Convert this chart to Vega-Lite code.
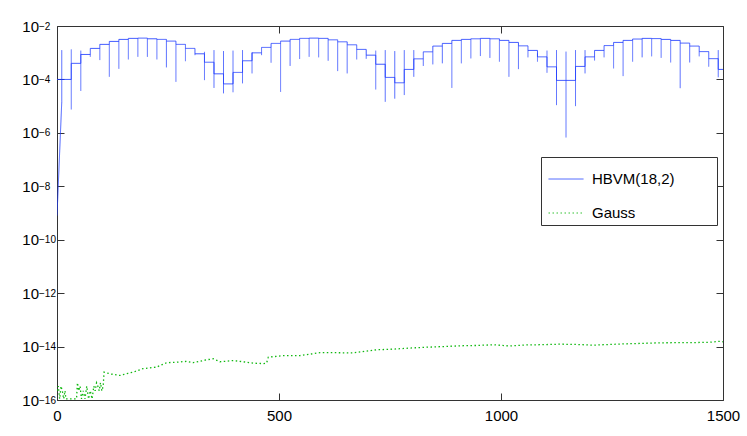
{
  "$schema": "https://vega.github.io/schema/vega-lite/v6.json",
  "width": 666,
  "height": 374,
  "autosize": {"type": "none"},
  "padding": {"left": 57, "top": 26, "right": 24, "bottom": 36},
  "background": "white",
  "config": {
    "view": {"stroke": "#333333", "strokeWidth": 1},
    "font": "Liberation Sans",
    "axis": {
      "domainColor": "#333333",
      "tickColor": "#333333",
      "tickWidth": 1,
      "labelFont": "Liberation Sans",
      "labelFontSize": 15,
      "labelColor": "#000000",
      "grid": false,
      "title": null,
      "labelFlush": false,
      "labelOverlap": false
    },
    "legend": {
      "labelFont": "Liberation Sans",
      "labelFontSize": 15,
      "labelColor": "#000000"
    }
  },
  "datasets": {
    "gauss": [
      {"x": 0, "y": 2.2e-16, "series": "Gauss"},
      {"x": 3, "y": 3.3e-16, "series": "Gauss"},
      {"x": 6, "y": 1.1e-16, "series": "Gauss"},
      {"x": 9, "y": 3.3e-16, "series": "Gauss"},
      {"x": 12, "y": 2.2e-16, "series": "Gauss"},
      {"x": 15, "y": 1.1e-16, "series": "Gauss"},
      {"x": 18, "y": 2.2e-16, "series": "Gauss"},
      {"x": 20, "y": 1.1e-16, "series": "Gauss"},
      {"x": 44, "y": 1.1e-16, "series": "Gauss"},
      {"x": 46, "y": 4.4e-16, "series": "Gauss"},
      {"x": 49, "y": 2.2e-16, "series": "Gauss"},
      {"x": 52, "y": 3.3e-16, "series": "Gauss"},
      {"x": 55, "y": 1.1e-16, "series": "Gauss"},
      {"x": 59, "y": 2.2e-16, "series": "Gauss"},
      {"x": 63, "y": 1.1e-16, "series": "Gauss"},
      {"x": 67, "y": 3.3e-16, "series": "Gauss"},
      {"x": 71, "y": 1.1e-16, "series": "Gauss"},
      {"x": 75, "y": 2.2e-16, "series": "Gauss"},
      {"x": 79, "y": 1.1e-16, "series": "Gauss"},
      {"x": 83, "y": 3.3e-16, "series": "Gauss"},
      {"x": 86, "y": 2.2e-16, "series": "Gauss"},
      {"x": 89, "y": 4.4e-16, "series": "Gauss"},
      {"x": 92, "y": 3.3e-16, "series": "Gauss"},
      {"x": 95, "y": 2.2e-16, "series": "Gauss"},
      {"x": 98, "y": 4.4e-16, "series": "Gauss"},
      {"x": 101, "y": 2.2e-16, "series": "Gauss"},
      {"x": 104, "y": 3.3e-16, "series": "Gauss"},
      {"x": 106, "y": 1.1e-15, "series": "Gauss"},
      {"x": 120, "y": 9.5e-16, "series": "Gauss"},
      {"x": 142, "y": 8.3e-16, "series": "Gauss"},
      {"x": 160, "y": 1.0e-15, "series": "Gauss"},
      {"x": 172, "y": 1.1e-15, "series": "Gauss"},
      {"x": 194, "y": 1.5e-15, "series": "Gauss"},
      {"x": 224, "y": 1.7e-15, "series": "Gauss"},
      {"x": 247, "y": 2.5e-15, "series": "Gauss"},
      {"x": 270, "y": 2.6e-15, "series": "Gauss"},
      {"x": 292, "y": 2.8e-15, "series": "Gauss"},
      {"x": 307, "y": 2.5e-15, "series": "Gauss"},
      {"x": 337, "y": 3.2e-15, "series": "Gauss"},
      {"x": 352, "y": 3.5e-15, "series": "Gauss"},
      {"x": 367, "y": 2.7e-15, "series": "Gauss"},
      {"x": 397, "y": 3.0e-15, "series": "Gauss"},
      {"x": 420, "y": 2.7e-15, "series": "Gauss"},
      {"x": 442, "y": 2.4e-15, "series": "Gauss"},
      {"x": 465, "y": 2.3e-15, "series": "Gauss"},
      {"x": 472, "y": 2.4e-15, "series": "Gauss"},
      {"x": 476, "y": 4.0e-15, "series": "Gauss"},
      {"x": 510, "y": 4.6e-15, "series": "Gauss"},
      {"x": 547, "y": 4.6e-15, "series": "Gauss"},
      {"x": 592, "y": 5.9e-15, "series": "Gauss"},
      {"x": 622, "y": 5.9e-15, "series": "Gauss"},
      {"x": 667, "y": 5.8e-15, "series": "Gauss"},
      {"x": 697, "y": 6.8e-15, "series": "Gauss"},
      {"x": 720, "y": 7.6e-15, "series": "Gauss"},
      {"x": 757, "y": 8.0e-15, "series": "Gauss"},
      {"x": 795, "y": 8.8e-15, "series": "Gauss"},
      {"x": 833, "y": 9.5e-15, "series": "Gauss"},
      {"x": 870, "y": 1.0e-14, "series": "Gauss"},
      {"x": 908, "y": 1.07e-14, "series": "Gauss"},
      {"x": 945, "y": 1.1e-14, "series": "Gauss"},
      {"x": 983, "y": 1.17e-14, "series": "Gauss"},
      {"x": 1020, "y": 1.05e-14, "series": "Gauss"},
      {"x": 1058, "y": 1.15e-14, "series": "Gauss"},
      {"x": 1095, "y": 1.18e-14, "series": "Gauss"},
      {"x": 1133, "y": 1.23e-14, "series": "Gauss"},
      {"x": 1170, "y": 1.2e-14, "series": "Gauss"},
      {"x": 1208, "y": 1.13e-14, "series": "Gauss"},
      {"x": 1245, "y": 1.2e-14, "series": "Gauss"},
      {"x": 1283, "y": 1.27e-14, "series": "Gauss"},
      {"x": 1320, "y": 1.32e-14, "series": "Gauss"},
      {"x": 1358, "y": 1.38e-14, "series": "Gauss"},
      {"x": 1395, "y": 1.4e-14, "series": "Gauss"},
      {"x": 1433, "y": 1.41e-14, "series": "Gauss"},
      {"x": 1470, "y": 1.45e-14, "series": "Gauss"},
      {"x": 1493, "y": 1.58e-14, "series": "Gauss"},
      {"x": 1500, "y": 1.5e-14, "series": "Gauss"}
    ],
    "levels": [
      {"x": 0, "y": 1.0e-4, "series": "HBVM(18,2)"},
      {"x": 10.71, "y": 1.0e-4, "series": "HBVM(18,2)"},
      {"x": 32.14, "y": 4.0e-4, "series": "HBVM(18,2)"},
      {"x": 53.57, "y": 8.6e-4, "series": "HBVM(18,2)"},
      {"x": 75.0, "y": 1.45e-3, "series": "HBVM(18,2)"},
      {"x": 96.43, "y": 2.05e-3, "series": "HBVM(18,2)"},
      {"x": 117.86, "y": 2.65e-3, "series": "HBVM(18,2)"},
      {"x": 139.29, "y": 3.15e-3, "series": "HBVM(18,2)"},
      {"x": 160.71, "y": 3.44e-3, "series": "HBVM(18,2)"},
      {"x": 182.14, "y": 3.52e-3, "series": "HBVM(18,2)"},
      {"x": 203.57, "y": 3.32e-3, "series": "HBVM(18,2)"},
      {"x": 225.0, "y": 3.15e-3, "series": "HBVM(18,2)"},
      {"x": 246.43, "y": 2.72e-3, "series": "HBVM(18,2)"},
      {"x": 267.86, "y": 2.05e-3, "series": "HBVM(18,2)"},
      {"x": 289.29, "y": 1.45e-3, "series": "HBVM(18,2)"},
      {"x": 310.71, "y": 9.1e-4, "series": "HBVM(18,2)"},
      {"x": 332.14, "y": 4.4e-4, "series": "HBVM(18,2)"},
      {"x": 353.57, "y": 1.62e-4, "series": "HBVM(18,2)"},
      {"x": 375.0, "y": 6.8e-5, "series": "HBVM(18,2)"},
      {"x": 396.43, "y": 1.83e-4, "series": "HBVM(18,2)"},
      {"x": 417.86, "y": 5.0e-4, "series": "HBVM(18,2)"},
      {"x": 439.29, "y": 9.9e-4, "series": "HBVM(18,2)"},
      {"x": 460.71, "y": 1.58e-3, "series": "HBVM(18,2)"},
      {"x": 482.14, "y": 2.23e-3, "series": "HBVM(18,2)"},
      {"x": 503.57, "y": 2.72e-3, "series": "HBVM(18,2)"},
      {"x": 525.0, "y": 3.15e-3, "series": "HBVM(18,2)"},
      {"x": 546.43, "y": 3.44e-3, "series": "HBVM(18,2)"},
      {"x": 567.86, "y": 3.52e-3, "series": "HBVM(18,2)"},
      {"x": 589.29, "y": 3.44e-3, "series": "HBVM(18,2)"},
      {"x": 610.71, "y": 3.04e-3, "series": "HBVM(18,2)"},
      {"x": 632.14, "y": 2.56e-3, "series": "HBVM(18,2)"},
      {"x": 653.57, "y": 1.98e-3, "series": "HBVM(18,2)"},
      {"x": 675.0, "y": 1.33e-3, "series": "HBVM(18,2)"},
      {"x": 696.43, "y": 8.1e-4, "series": "HBVM(18,2)"},
      {"x": 717.86, "y": 3.7e-4, "series": "HBVM(18,2)"},
      {"x": 739.29, "y": 1.19e-4, "series": "HBVM(18,2)"},
      {"x": 760.71, "y": 7.5e-5, "series": "HBVM(18,2)"},
      {"x": 782.14, "y": 2.37e-4, "series": "HBVM(18,2)"},
      {"x": 803.57, "y": 5.9e-4, "series": "HBVM(18,2)"},
      {"x": 825.0, "y": 1.08e-3, "series": "HBVM(18,2)"},
      {"x": 846.43, "y": 1.77e-3, "series": "HBVM(18,2)"},
      {"x": 867.86, "y": 2.23e-3, "series": "HBVM(18,2)"},
      {"x": 889.29, "y": 2.89e-3, "series": "HBVM(18,2)"},
      {"x": 910.71, "y": 3.15e-3, "series": "HBVM(18,2)"},
      {"x": 932.14, "y": 3.32e-3, "series": "HBVM(18,2)"},
      {"x": 953.57, "y": 3.44e-3, "series": "HBVM(18,2)"},
      {"x": 975.0, "y": 3.32e-3, "series": "HBVM(18,2)"},
      {"x": 996.43, "y": 2.89e-3, "series": "HBVM(18,2)"},
      {"x": 1017.86, "y": 2.43e-3, "series": "HBVM(18,2)"},
      {"x": 1039.29, "y": 1.81e-3, "series": "HBVM(18,2)"},
      {"x": 1060.71, "y": 1.22e-3, "series": "HBVM(18,2)"},
      {"x": 1082.14, "y": 7.0e-4, "series": "HBVM(18,2)"},
      {"x": 1103.57, "y": 2.96e-4, "series": "HBVM(18,2)"},
      {"x": 1125.0, "y": 9.2e-5, "series": "HBVM(18,2)"},
      {"x": 1146.43, "y": 9.2e-5, "series": "HBVM(18,2)"},
      {"x": 1167.86, "y": 3.07e-4, "series": "HBVM(18,2)"},
      {"x": 1189.29, "y": 7.0e-4, "series": "HBVM(18,2)"},
      {"x": 1210.71, "y": 1.22e-3, "series": "HBVM(18,2)"},
      {"x": 1232.14, "y": 1.85e-3, "series": "HBVM(18,2)"},
      {"x": 1253.57, "y": 2.43e-3, "series": "HBVM(18,2)"},
      {"x": 1275.0, "y": 2.89e-3, "series": "HBVM(18,2)"},
      {"x": 1296.43, "y": 3.25e-3, "series": "HBVM(18,2)"},
      {"x": 1317.86, "y": 3.44e-3, "series": "HBVM(18,2)"},
      {"x": 1339.29, "y": 3.38e-3, "series": "HBVM(18,2)"},
      {"x": 1360.71, "y": 3.15e-3, "series": "HBVM(18,2)"},
      {"x": 1382.14, "y": 2.89e-3, "series": "HBVM(18,2)"},
      {"x": 1403.57, "y": 2.29e-3, "series": "HBVM(18,2)"},
      {"x": 1425.0, "y": 1.77e-3, "series": "HBVM(18,2)"},
      {"x": 1446.43, "y": 1.1e-3, "series": "HBVM(18,2)"},
      {"x": 1467.86, "y": 6.0e-4, "series": "HBVM(18,2)"},
      {"x": 1489.29, "y": 2.37e-4, "series": "HBVM(18,2)"},
      {"x": 1500, "y": 2.37e-4, "series": "HBVM(18,2)"}
    ],
    "ramp": [
      {"x": 0, "y": 8e-10, "series": "HBVM(18,2)"},
      {"x": 10.71, "y": 1.45e-5, "series": "HBVM(18,2)"}
    ],
    "spikes": [
      {"x": 10.71, "lo": 1.45e-5, "hi": 1.25e-3, "series": "HBVM(18,2)"},
      {"x": 32.14, "lo": 7.5e-6, "hi": 1.33e-3, "series": "HBVM(18,2)"},
      {"x": 53.57, "lo": 3.7e-5, "hi": 1.2e-3, "series": "HBVM(18,2)"},
      {"x": 75.0, "lo": 7.0e-4, "hi": 8.6e-4, "series": "HBVM(18,2)"},
      {"x": 96.43, "lo": 5.3e-4, "hi": 1.45e-3, "series": "HBVM(18,2)"},
      {"x": 117.86, "lo": 1.25e-4, "hi": 2.05e-3, "series": "HBVM(18,2)"},
      {"x": 139.29, "lo": 2.49e-4, "hi": 2.65e-3, "series": "HBVM(18,2)"},
      {"x": 160.71, "lo": 5.6e-4, "hi": 3.15e-3, "series": "HBVM(18,2)"},
      {"x": 182.14, "lo": 7.0e-4, "hi": 3.44e-3, "series": "HBVM(18,2)"},
      {"x": 203.57, "lo": 7.0e-4, "hi": 3.32e-3, "series": "HBVM(18,2)"},
      {"x": 225.0, "lo": 5.6e-4, "hi": 3.15e-3, "series": "HBVM(18,2)"},
      {"x": 246.43, "lo": 2.81e-4, "hi": 2.72e-3, "series": "HBVM(18,2)"},
      {"x": 267.86, "lo": 8.1e-5, "hi": 2.05e-3, "series": "HBVM(18,2)"},
      {"x": 289.29, "lo": 4.8e-4, "hi": 1.45e-3, "series": "HBVM(18,2)"},
      {"x": 310.71, "lo": 8.1e-4, "hi": 9.1e-4, "series": "HBVM(18,2)"},
      {"x": 332.14, "lo": 9.4e-5, "hi": 1.08e-3, "series": "HBVM(18,2)"},
      {"x": 353.57, "lo": 4.8e-5, "hi": 1.25e-3, "series": "HBVM(18,2)"},
      {"x": 375.0, "lo": 3.0e-5, "hi": 1.15e-3, "series": "HBVM(18,2)"},
      {"x": 396.43, "lo": 3.3e-5, "hi": 1.2e-3, "series": "HBVM(18,2)"},
      {"x": 417.86, "lo": 7.1e-5, "hi": 1.25e-3, "series": "HBVM(18,2)"},
      {"x": 439.29, "lo": 1.68e-4, "hi": 1.03e-3, "series": "HBVM(18,2)"},
      {"x": 460.71, "lo": 8.1e-4, "hi": 9.9e-4, "series": "HBVM(18,2)"},
      {"x": 482.14, "lo": 4.2e-4, "hi": 1.58e-3, "series": "HBVM(18,2)"},
      {"x": 503.57, "lo": 3.4e-5, "hi": 2.23e-3, "series": "HBVM(18,2)"},
      {"x": 525.0, "lo": 3.2e-4, "hi": 2.72e-3, "series": "HBVM(18,2)"},
      {"x": 546.43, "lo": 5.8e-4, "hi": 3.15e-3, "series": "HBVM(18,2)"},
      {"x": 567.86, "lo": 7.0e-4, "hi": 3.44e-3, "series": "HBVM(18,2)"},
      {"x": 589.29, "lo": 6.7e-4, "hi": 3.44e-3, "series": "HBVM(18,2)"},
      {"x": 610.71, "lo": 5.0e-4, "hi": 3.04e-3, "series": "HBVM(18,2)"},
      {"x": 632.14, "lo": 2.05e-4, "hi": 2.56e-3, "series": "HBVM(18,2)"},
      {"x": 653.57, "lo": 1.68e-4, "hi": 1.98e-3, "series": "HBVM(18,2)"},
      {"x": 675.0, "lo": 5.6e-4, "hi": 1.33e-3, "series": "HBVM(18,2)"},
      {"x": 696.43, "lo": 5.9e-4, "hi": 8.1e-4, "series": "HBVM(18,2)"},
      {"x": 717.86, "lo": 4.2e-5, "hi": 1.2e-3, "series": "HBVM(18,2)"},
      {"x": 739.29, "lo": 1.45e-5, "hi": 1.25e-3, "series": "HBVM(18,2)"},
      {"x": 760.71, "lo": 1.9e-5, "hi": 1.15e-3, "series": "HBVM(18,2)"},
      {"x": 782.14, "lo": 2.6e-5, "hi": 1.25e-3, "series": "HBVM(18,2)"},
      {"x": 803.57, "lo": 1.25e-4, "hi": 1.25e-3, "series": "HBVM(18,2)"},
      {"x": 825.0, "lo": 3.2e-4, "hi": 5.9e-4, "series": "HBVM(18,2)"},
      {"x": 846.43, "lo": 3.65e-4, "hi": 1.08e-3, "series": "HBVM(18,2)"},
      {"x": 867.86, "lo": 4.0e-4, "hi": 1.77e-3, "series": "HBVM(18,2)"},
      {"x": 889.29, "lo": 4.8e-5, "hi": 2.23e-3, "series": "HBVM(18,2)"},
      {"x": 910.71, "lo": 4.0e-4, "hi": 2.89e-3, "series": "HBVM(18,2)"},
      {"x": 932.14, "lo": 6.1e-4, "hi": 3.15e-3, "series": "HBVM(18,2)"},
      {"x": 953.57, "lo": 7.5e-4, "hi": 3.32e-3, "series": "HBVM(18,2)"},
      {"x": 975.0, "lo": 6.4e-4, "hi": 3.32e-3, "series": "HBVM(18,2)"},
      {"x": 996.43, "lo": 4.6e-4, "hi": 2.89e-3, "series": "HBVM(18,2)"},
      {"x": 1017.86, "lo": 1.25e-4, "hi": 2.43e-3, "series": "HBVM(18,2)"},
      {"x": 1039.29, "lo": 2.43e-4, "hi": 1.81e-3, "series": "HBVM(18,2)"},
      {"x": 1060.71, "lo": 6.7e-4, "hi": 1.22e-3, "series": "HBVM(18,2)"},
      {"x": 1082.14, "lo": 4.6e-4, "hi": 9.4e-4, "series": "HBVM(18,2)"},
      {"x": 1103.57, "lo": 1.77e-4, "hi": 1.2e-3, "series": "HBVM(18,2)"},
      {"x": 1125.0, "lo": 1.09e-5, "hi": 1.25e-3, "series": "HBVM(18,2)"},
      {"x": 1146.43, "lo": 6.7e-7, "hi": 1.1e-3, "series": "HBVM(18,2)"},
      {"x": 1167.86, "lo": 1.0e-5, "hi": 1.25e-3, "series": "HBVM(18,2)"},
      {"x": 1189.29, "lo": 1.68e-4, "hi": 1.25e-3, "series": "HBVM(18,2)"},
      {"x": 1210.71, "lo": 5.1e-4, "hi": 7.0e-4, "series": "HBVM(18,2)"},
      {"x": 1232.14, "lo": 6.7e-4, "hi": 1.22e-3, "series": "HBVM(18,2)"},
      {"x": 1253.57, "lo": 2.58e-4, "hi": 1.85e-3, "series": "HBVM(18,2)"},
      {"x": 1275.0, "lo": 1.33e-4, "hi": 2.43e-3, "series": "HBVM(18,2)"},
      {"x": 1296.43, "lo": 4.6e-4, "hi": 2.89e-3, "series": "HBVM(18,2)"},
      {"x": 1317.86, "lo": 6.7e-4, "hi": 3.25e-3, "series": "HBVM(18,2)"},
      {"x": 1339.29, "lo": 7.3e-4, "hi": 3.38e-3, "series": "HBVM(18,2)"},
      {"x": 1360.71, "lo": 6.4e-4, "hi": 3.15e-3, "series": "HBVM(18,2)"},
      {"x": 1382.14, "lo": 4.3e-4, "hi": 2.89e-3, "series": "HBVM(18,2)"},
      {"x": 1403.57, "lo": 4.7e-5, "hi": 2.29e-3, "series": "HBVM(18,2)"},
      {"x": 1425.0, "lo": 4.3e-4, "hi": 1.77e-3, "series": "HBVM(18,2)"},
      {"x": 1446.43, "lo": 7.3e-4, "hi": 1.1e-3, "series": "HBVM(18,2)"},
      {"x": 1467.86, "lo": 3.0e-4, "hi": 6.0e-4, "series": "HBVM(18,2)"},
      {"x": 1489.29, "lo": 1.2e-4, "hi": 1.25e-3, "series": "HBVM(18,2)"}
    ]
  },
  "layer": [
    {
      "data": {"name": "gauss"},
      "mark": {"type": "line", "strokeWidth": 1.3, "clip": true},
      "encoding": {
        "x": {
          "field": "x", "type": "quantitative",
          "scale": {"domain": [0, 1500], "nice": false, "zero": false},
          "axis": {"orient": "bottom", "values": [0, 500, 1000, 1500], "ticks": false, "domain": false, "labelPadding": 8, "format": "d"}
        },
        "y": {
          "field": "y", "type": "quantitative",
          "scale": {"type": "log", "domain": [1e-16, 0.01], "nice": false},
          "axis": {
            "orient": "left",
            "values": [1e-16, 1e-14, 1e-12, 1e-10, 1e-8, 1e-6, 1e-4, 1e-2],
            "ticks": false, "domain": false,
            "labelPadding": 18.5,
            "labelExpr": "'10'"
          }
        },
        "color": {
          "field": "series", "type": "nominal",
          "scale": {"domain": ["HBVM(18,2)", "Gauss"], "range": ["#1f3cff", "#10b810"]},
          "legend": {
            "title": null, "orient": "none", "legendX": 484, "legendY": 131,
            "symbolType": "stroke", "symbolSize": 1225, "symbolStrokeWidth": 1,
            "fillColor": "white", "strokeColor": "#333333", "padding": 4,
            "rowPadding": 8, "symbolOffset": 3, "labelOffset": 8,
            "labelExpr": "datum.label + '\u00a0\u00a0\u00a0\u00a0\u00a0\u00a0\u00a0\u00a0\u00a0\u200b'"
          }
        },
        "strokeDash": {
          "field": "series", "type": "nominal",
          "scale": {"domain": ["HBVM(18,2)", "Gauss"], "range": [[1, 0], [1.5, 2.5]]},
          "legend": {
            "title": null, "orient": "none", "legendX": 484, "legendY": 131,
            "symbolType": "stroke", "symbolSize": 1225, "symbolStrokeWidth": 1,
            "fillColor": "white", "strokeColor": "#333333", "padding": 4,
            "rowPadding": 8, "symbolOffset": 3, "labelOffset": 8,
            "labelExpr": "datum.label + '\u00a0\u00a0\u00a0\u00a0\u00a0\u00a0\u00a0\u00a0\u00a0\u200b'"
          }
        }
      }
    },
    {
      "data": {"name": "levels"},
      "mark": {"type": "line", "interpolate": "step-after", "strokeWidth": 1, "opacity": 0.85, "clip": true},
      "encoding": {
        "x": {"field": "x", "type": "quantitative", "axis": {"orient": "bottom", "values": [0, 500, 1000, 1500], "labels": false, "domain": false, "tickSize": 7, "offset": -7}},
        "y": {
          "field": "y", "type": "quantitative",
          "axis": {
            "orient": "left", "values": [1e-16, 1e-14, 1e-12, 1e-10, 1e-8, 1e-6, 1e-4, 1e-2],
            "domain": false, "tickSize": 7, "offset": -7,
            "labelAlign": "left", "labelPadding": 18.5, "labelFontSize": 10, "labelDy": -7,
            "labelExpr": "'−' + round(-log(datum.value)/LN10)"
          }
        },
        "color": {"field": "series", "type": "nominal"},
        "strokeDash": {"field": "series", "type": "nominal"}
      }
    },
    {
      "data": {"name": "ramp"},
      "mark": {"type": "line", "strokeWidth": 1, "opacity": 0.85, "clip": true},
      "encoding": {
        "x": {"field": "x", "type": "quantitative", "axis": {"orient": "top", "values": [0, 500, 1000, 1500], "labels": false, "domain": false, "tickSize": 7, "offset": -7}},
        "y": {"field": "y", "type": "quantitative", "axis": {"orient": "right", "values": [1e-16, 1e-14, 1e-12, 1e-10, 1e-8, 1e-6, 1e-4, 1e-2], "labels": false, "domain": false, "tickSize": 7, "offset": -7}},
        "color": {"field": "series", "type": "nominal"},
        "strokeDash": {"field": "series", "type": "nominal"}
      }
    },
    {
      "data": {"name": "spikes"},
      "mark": {"type": "rule", "strokeWidth": 1, "opacity": 0.75, "clip": true},
      "encoding": {
        "x": {"field": "x", "type": "quantitative", "axis": null},
        "y": {"field": "hi", "type": "quantitative", "axis": null},
        "y2": {"field": "lo"},
        "color": {"field": "series", "type": "nominal"},
        "strokeDash": {"field": "series", "type": "nominal"}
      }
    }
  ],
  "resolve": {"axis": {"x": "independent", "y": "independent"}}
}
